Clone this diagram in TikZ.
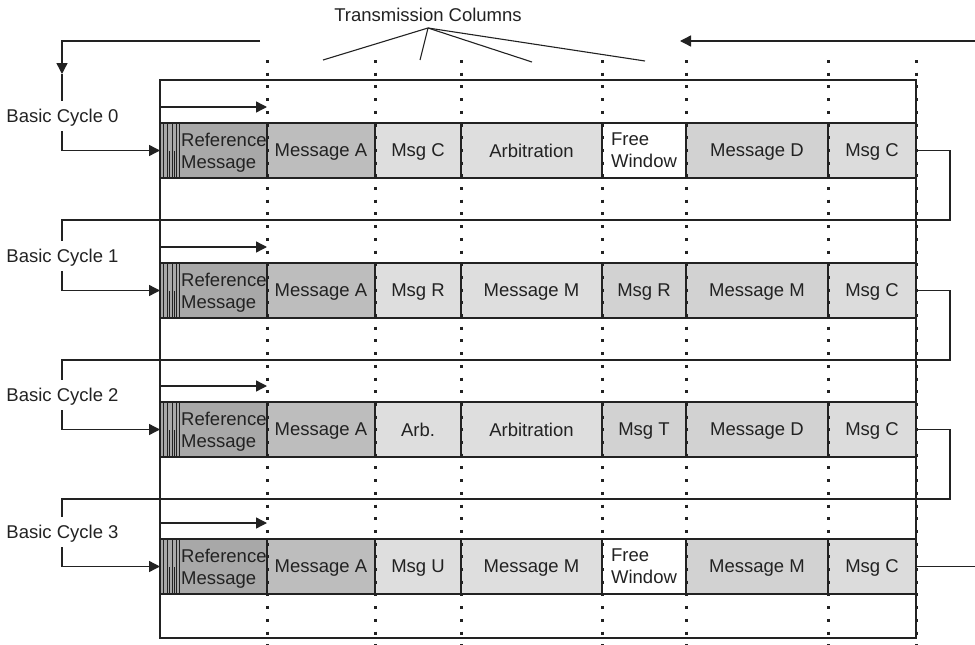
\documentclass[tikz,border=0pt]{standalone}
\usepackage{fontspec}
\setmainfont{Liberation Sans}
\usetikzlibrary{arrows.meta}
\definecolor{ink}{HTML}{222222}
\definecolor{refgray}{HTML}{A8A8A8}
\definecolor{agray}{HTML}{BDBDBD}
\definecolor{lgray}{HTML}{DEDEDE}
\definecolor{mgray}{HTML}{D2D2D2}
\definecolor{cgray}{HTML}{DCDCDC}

% one message slot: name, left x, top y, width, fill, text
\newcommand\slot[6]{\node[cell, fill=#5, minimum width=#4pt] (#1) at (#2,#3) {#6};}

% one basic cycle: index, top y
\newcommand\cyclebase[2]{%
  \node[cell, fill=refgray, minimum width=107pt] (ref#1) at (160,#2) {};
  \foreach \hx in {163.5,167,172.5,176.5,179.5}
    \draw[hatch] (\hx,#2) -- (\hx,#2+55);
  \foreach \hx in {169.5,174.5}
    \draw[hatch] (\hx,#2+28) -- (\hx,#2+55);
  \node[anchor=west, align=left, inner sep=0pt] (reft#1) at (181,#2+29.5) {Reference\\Message};
  \slot{a#1}{267}{#2}{108}{agray}{Message A}
  \node (bc#1) at (62.5,#2-5) {Basic Cycle #1};
  \coordinate (bcN#1) at (62,#2-22);
  \coordinate (bcS#1) at (62,#2+8);
  \coordinate (ga#1) at (160,#2-16);
  \coordinate (gb#1) at (267,#2-16);
  \coordinate (turn#1) at (950,#2+97);
  \coordinate (corner#1) at (62,#2+97);
  \draw[wire,tip] (ga#1) -- (gb#1);
  \draw[wire,tip] (bcS#1) |- (ref#1.west);
}

\begin{document}
\begin{tikzpicture}[x=1pt,y=-1pt,
  font=\fontsize{18.5}{22}\selectfont,
  every node/.style={text=ink},
  cell/.style={draw=ink, line width=1.4pt, minimum height=55pt, anchor=north west,
               inner sep=0pt, outer sep=0pt, align=left, text depth=0pt},
  wire/.style={draw=ink, line width=1.4pt},
  hatch/.style={draw=ink, line width=0.9pt},
  tip/.style={-{Triangle[length=11pt,width=11pt]}},
  colline/.style={draw=ink, line width=3pt, dash pattern=on 3pt off 9.7pt},
]
\useasboundingbox (0,0) rectangle (975,645);

% frame around all cycles
\draw[wire] (160,80) rectangle (916,638);

% cycle 0
\cyclebase{0}{123}
\slot{b0}{375}{123}{86}{lgray}{Msg C}
\slot{c0}{461}{123}{141}{lgray}{Arbitration}
\slot{d0}{602}{123}{84}{white}{Free\\Window}
\slot{e0}{686}{123}{142}{mgray}{Message D}
\slot{f0}{828}{123}{88}{cgray}{Msg C}

% cycle 1
\cyclebase{1}{263}
\slot{b1}{375}{263}{86}{lgray}{Msg R}
\slot{c1}{461}{263}{141}{lgray}{Message M}
\slot{d1}{602}{263}{84}{mgray}{Msg R}
\slot{e1}{686}{263}{142}{mgray}{Message M}
\slot{f1}{828}{263}{88}{cgray}{Msg C}

% cycle 2
\cyclebase{2}{402}
\slot{b2}{375}{402}{86}{lgray}{Arb.}
\slot{c2}{461}{402}{141}{lgray}{Arbitration}
\slot{d2}{602}{402}{84}{mgray}{Msg T}
\slot{e2}{686}{402}{142}{mgray}{Message D}
\slot{f2}{828}{402}{88}{cgray}{Msg C}

% cycle 3
\cyclebase{3}{539}
\slot{b3}{375}{539}{86}{lgray}{Msg U}
\slot{c3}{461}{539}{141}{lgray}{Message M}
\slot{d3}{602}{539}{84}{white}{Free\\Window}
\slot{e3}{686}{539}{142}{mgray}{Message M}
\slot{f3}{828}{539}{88}{cgray}{Msg C}

% links from the end of one cycle to the start of the next
\draw[wire] (f0.east) -| (turn0) -- (corner0) -- (bcN1);
\draw[wire] (f1.east) -| (turn1) -- (corner1) -- (bcN2);
\draw[wire] (f2.east) -| (turn2) -- (corner2) -- (bcN3);
\coordinate (exit) at (975,566.5);
\draw[wire] (f3.east) -- (exit);

% return path at the top
\coordinate (topL) at (260,41);
\coordinate (down) at (62,74);
\draw[wire,tip] (topL) -| (down);
\draw[wire] (down) -- (bcN0);
\coordinate (retR) at (975,41);
\coordinate (retL) at (680,41);
\draw[wire,tip] (retR) -- (retL);

% transmission columns
\foreach \cx in {267,375,461,602,686,828,916}
  \draw[colline] (\cx,60) -- (\cx,645);

\node (tc) at (428,15) {Transmission Columns};
\coordinate (apex) at (428,28);
\coordinate (p1) at (323,60);
\coordinate (p2) at (420,60);
\coordinate (p3) at (532,62);
\coordinate (p4) at (645,61);
\foreach \p in {p1,p2,p3,p4}
  \draw[wire, line width=1.1pt] (apex) -- (\p);
\end{tikzpicture}
\end{document}
